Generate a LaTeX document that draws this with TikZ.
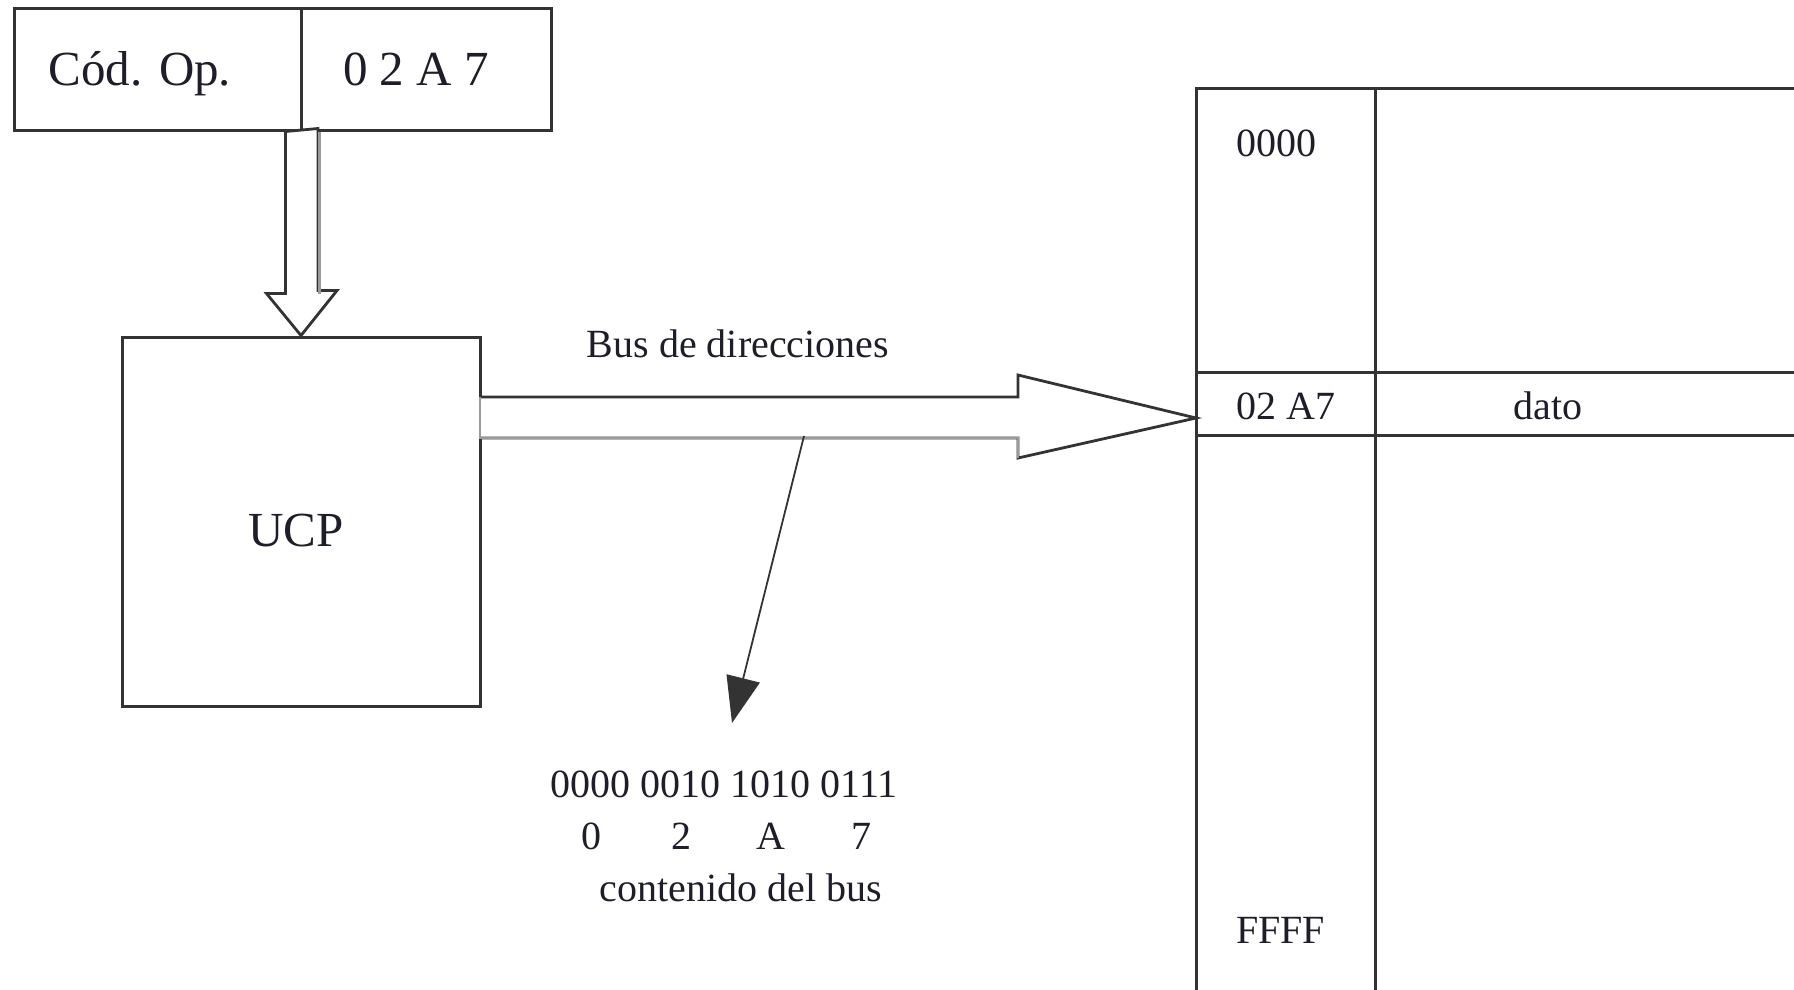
\documentclass[tikz,border=0pt]{standalone}
\usepackage{fontspec}
\setmainfont{Liberation Serif}
\usetikzlibrary{arrows.meta,calc}
\definecolor{ink}{HTML}{333333}
\definecolor{soft}{HTML}{9A9A9A}
\definecolor{txt}{HTML}{1E1E2A}
\tikzset{
  box/.style={draw=ink, line width=3pt, fill=white, inner sep=0pt},
  big/.style={font=\fontsize{49}{58}\selectfont, text=txt, inner sep=0pt},
  small/.style={font=\fontsize{40}{48}\selectfont, text=txt, inner sep=0pt},
  grid/.style={draw=ink, line width=3pt},
  hollow/.style={draw=ink, line width=2.8pt, fill=white, line join=miter},
  shade/.style={draw=soft, line width=2.8pt},
  pointer/.style={draw=ink, line width=1.8pt, -{Triangle[length=46pt,width=34pt]}}
}
\begin{document}
\begin{tikzpicture}[x=1pt, y=-1pt]
\useasboundingbox (0,0) rectangle (1794,989);
\clip (0,0) rectangle (1794,989);
\fill[white] (0,0) rectangle (1794,989);

% instruction register
\node[box, minimum width=287pt, minimum height=122pt] (op) at (157.5,69) {};
\node[box, minimum width=250pt, minimum height=122pt] (addr) at (426,69) {};
\node[big, anchor=base] (optxt) at (140,85) {Cód. Op.};
\node[big, anchor=base] (addrtxt) at (416,85) {0 2 A 7};

% CPU
\node[box, minimum width=358pt, minimum height=369pt] (ucp) at (301,521.5) {};
\node[big, anchor=base] (ucptxt) at (296,546) {UCP};

% hollow arrow instruction -> UCP
\draw[hollow] (op.south east) ++(-17,0)
  -- ++(0,162) -- ++(-19,0) -- (ucp.north) -- ++(36,-45) -- ++(-19,0) -- ++(0,-162) -- cycle;
\draw[shade] ($(op.south east)+(17,0)$) -- ++(0,162);

% memory table
\draw[grid] (1196,1000) -- (1196,88) -- (1810,88);
\draw[grid] (1375,88) -- (1375,1000);
\draw[grid] (1196,372) -- (1810,372);
\draw[grid] (1196,435) -- (1810,435);
\coordinate (memin) at (1196,418);
\node[small, anchor=base west] (m0) at (1236,156) {0000};
\node[small, anchor=base west] (m1) at (1236,419) {02 A7};
\node[small, anchor=base] (m2) at (1548,419) {dato};
\node[small, anchor=base west] (m3) at (1236,943) {FFFF};

% address bus hollow arrow
\draw[hollow] (480,397) -- (1018,397) -- (1018,375) -- (memin) -- (1018,458) -- (1018,438) -- (480,438);
\draw[shade] (480,397) -- (480,438) -- (1018,438) -- (1018,458);
\node[small, anchor=base] (busl) at (738,357) {Bus de direcciones};

% bus contents
\coordinate (tap) at (804,436);
\node[small, anchor=base] (bits) at (724,797) {0000 0010 1010 0111};
\node[small, anchor=base] (h0) at (591,849) {0};
\node[small, anchor=base] (h1) at (681,849) {2};
\node[small, anchor=base] (h2) at (771,849) {A};
\node[small, anchor=base] (h3) at (861,849) {7};
\node[small, anchor=base] (cont) at (741,901) {contenido del bus};
\coordinate (tip) at (732,723);
\draw[pointer] (tap) -- (tip);
\end{tikzpicture}
\end{document}
